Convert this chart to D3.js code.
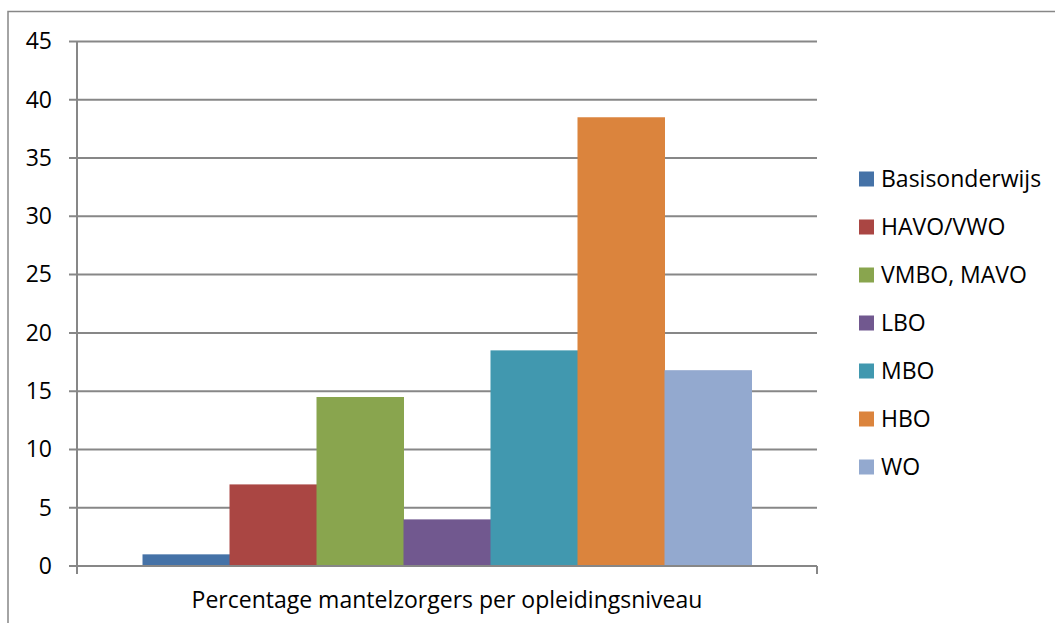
<!DOCTYPE html>
<html>
<head>
<meta charset="utf-8">
<script src="https://cdn.jsdelivr.net/npm/d3@7"></script>
<style>
  html, body { margin: 0; padding: 0; background: #fff; }
  svg { display: block; font-family: "Open Sans", sans-serif; }
</style>
</head>
<body>
<svg id="chart" width="1055" height="623"></svg>
<script>
var categories = ['Basisonderwijs', 'HAVO/VWO', 'VMBO, MAVO', 'LBO', 'MBO', 'HBO', 'WO'];
var values = [1, 7, 14.5, 4, 18.5, 38.5, 16.8];
var colors = ['#4572A7', '#AA4643', '#89A54E', '#71588F', '#4198AF', '#DB843D', '#93A9CF'];
var yTicks = [0, 5, 10, 15, 20, 25, 30, 35, 40, 45];
var axisTitle = 'Percentage mantelzorgers per opleidingsniveau';

(function () {
    var PLOT = {left: 77, right: 817, top: 41.5, bottom: 566};
    var GRID = '#878787';
    var FONT_SIZE = 23;
    var svg = d3.select('#chart');

    // outer chart frame (only top and left edges fall inside the picture)
    svg.append('rect')
        .attr('x', 8).attr('y', 11.5)
        .attr('width', 1100).attr('height', 700)
        .attr('fill', 'none').attr('stroke', GRID).attr('stroke-width', 1.5);

    var yScale = d3.scaleLinear().domain([0, 45]).range([PLOT.bottom, PLOT.top]);
    // single cluster: bars touch each other, wide gap on both ends
    var xScale = d3.scaleBand().domain(categories).range([PLOT.left, PLOT.right])
        .paddingInner(0).paddingOuter(0.753);

    // gridlines with small ticks on the left
    svg.append('g').selectAll('line').data(yTicks).enter().append('line')
        .attr('x1', PLOT.left - 8).attr('x2', PLOT.right)
        .attr('y1', function (d) { return yScale(d); })
        .attr('y2', function (d) { return yScale(d); })
        .attr('stroke', GRID).attr('stroke-width', 2);

    var yAxis = d3.axisLeft(yScale).tickValues(yTicks).tickSize(0).tickPadding(25);
    var yg = svg.append('g').attr('transform', 'translate(' + PLOT.left + ',0)').call(yAxis);
    yg.select('.domain').remove();
    yg.selectAll('text').attr('font-size', FONT_SIZE).attr('fill', '#000')
        .attr('font-family', '"Open Sans", sans-serif');

    // bars
    svg.append('g').selectAll('rect').data(values).enter().append('rect')
        .attr('x', function (d, i) { return xScale(categories[i]); })
        .attr('width', xScale.bandwidth() + 0.5)
        .attr('y', function (d) { return yScale(d); })
        .attr('height', function (d) { return yScale(0) - yScale(d); })
        .attr('fill', function (d, i) { return colors[i]; });

    // axis lines
    svg.append('line').attr('x1', PLOT.left).attr('x2', PLOT.left)
        .attr('y1', PLOT.top).attr('y2', PLOT.bottom + 8)
        .attr('stroke', GRID).attr('stroke-width', 2);
    svg.append('line').attr('x1', PLOT.left - 8).attr('x2', PLOT.right)
        .attr('y1', PLOT.bottom).attr('y2', PLOT.bottom)
        .attr('stroke', GRID).attr('stroke-width', 2);
    svg.append('line').attr('x1', PLOT.right).attr('x2', PLOT.right)
        .attr('y1', PLOT.bottom).attr('y2', PLOT.bottom + 8)
        .attr('stroke', GRID).attr('stroke-width', 2);

    svg.append('text')
        .attr('x', (PLOT.left + PLOT.right) / 2).attr('y', 608)
        .attr('text-anchor', 'middle').attr('font-size', FONT_SIZE).attr('fill', '#000')
        .text(axisTitle);

    // legend
    var legend = svg.append('g').selectAll('g').data(categories).enter().append('g')
        .attr('transform', function (d, i) { return 'translate(859,' + (179 + i * 48) + ')'; });
    legend.append('rect').attr('x', 0).attr('y', -7.5).attr('width', 15).attr('height', 15)
        .attr('fill', function (d, i) { return colors[i]; });
    legend.append('text').attr('x', 22).attr('y', 0).attr('dy', '0.35em')
        .attr('font-size', FONT_SIZE).attr('fill', '#000')
        .text(function (d) { return d; });
}());
</script>
</body>
</html>
